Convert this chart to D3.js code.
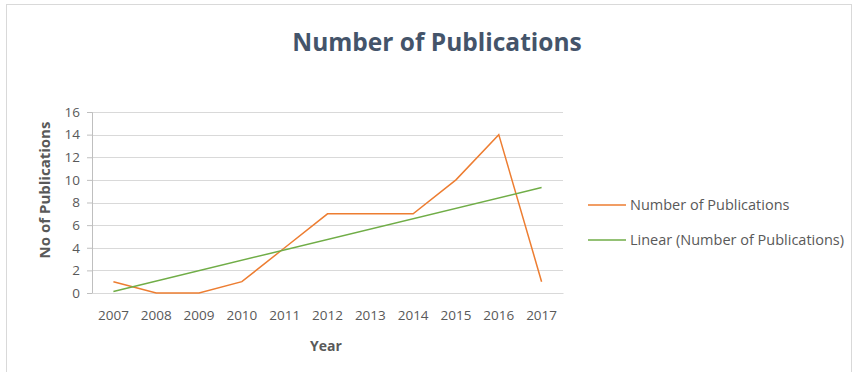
<!DOCTYPE html>
<html>
<head>
<meta charset="utf-8">
<script src="https://cdn.jsdelivr.net/npm/d3@7"></script>
<style>
  body { margin: 0; background: #fff; }
  text { font-family: "Open Sans", sans-serif; }
</style>
</head>
<body>
<div id="chart"></div>
<script>
// chart data
const years = ["2007", "2008", "2009", "2010", "2011", "2012", "2013", "2014", "2015", "2016", "2017"];
const publications = [1, 0, 0, 1, 4, 7, 7, 7, 10, 14, 1];
// linear trend line, value at first and last year
const trendYears = ["2007", "2017"];
const trendValues = [0.14, 9.32];
const yTicks = [0, 2, 4, 6, 8, 10, 12, 14, 16];

const W = 855, H = 372;
const margin = { top: 112, right: 292, bottom: 79, left: 92 };
const width = W - margin.left - margin.right;
const height = H - margin.top - margin.bottom;

const svg = d3.select("#chart").append("svg")
    .attr("width", W)
    .attr("height", H);

// outer chart border
svg.append("rect")
    .attr("x", 6.5).attr("y", 4.5)
    .attr("width", 845).attr("height", 380)
    .attr("fill", "none")
    .attr("stroke", "#d9d9d9");

svg.append("text")
    .attr("x", 437).attr("y", 51)
    .attr("text-anchor", "middle")
    .attr("font-size", 24.5)
    .attr("font-weight", "bold")
    .attr("fill", "#44546a")
    .text("Number of Publications");

const g = svg.append("g")
    .attr("transform", "translate(" + margin.left + "," + margin.top + ")");

const x = d3.scaleBand().domain(years).range([0, width]);
const y = d3.scaleLinear().domain([0, 16]).range([height, 0]);

// gridlines
g.append("g")
    .selectAll("line")
    .data(yTicks.filter(d => d > 0))
    .enter().append("line")
    .attr("x1", 0).attr("x2", width)
    .attr("y1", d => Math.round(y(d)) + 0.5)
    .attr("y2", d => Math.round(y(d)) + 0.5)
    .attr("stroke", "#d9d9d9");

// y axis
const yAxis = g.append("g")
    .call(d3.axisLeft(y).tickValues(yTicks).tickSize(5).tickPadding(7));
yAxis.select(".domain").attr("stroke", "#bfbfbf");
yAxis.selectAll(".tick line").attr("stroke", "#bfbfbf");
yAxis.selectAll("text").attr("font-size", 13.5).attr("fill", "#595959");

// x axis
const xAxis = g.append("g")
    .attr("transform", "translate(0," + height + ")")
    .call(d3.axisBottom(x).tickSize(0).tickPadding(17));
xAxis.select(".domain").attr("stroke", "#d9d9d9");
xAxis.selectAll("text").attr("font-size", 13.5).attr("fill", "#595959");

// axis titles
svg.append("text")
    .attr("x", 326).attr("y", 351)
    .attr("text-anchor", "middle")
    .attr("font-size", 14)
    .attr("font-weight", "bold")
    .attr("fill", "#595959")
    .text("Year");

svg.append("text")
    .attr("transform", "translate(50,190) rotate(-90)")
    .attr("text-anchor", "middle")
    .attr("font-size", 15)
    .attr("font-weight", "bold")
    .attr("fill", "#595959")
    .text("No of Publications");

const cx = d => x(d) + x.bandwidth() / 2;

// data line
const line = d3.line()
    .x((d, i) => cx(years[i]))
    .y(d => y(d));

g.append("path")
    .datum(publications)
    .attr("d", line)
    .attr("fill", "none")
    .attr("stroke", "#ed7d31")
    .attr("stroke-width", 1.5);

// trend line
g.append("path")
    .datum(trendValues)
    .attr("d", d3.line().x((d, i) => cx(trendYears[i])).y(d => y(d)))
    .attr("fill", "none")
    .attr("stroke", "#70ad47")
    .attr("stroke-width", 1.5);

// legend
const legendItems = [
  { label: "Number of Publications", color: "#ed7d31" },
  { label: "Linear (Number of Publications)", color: "#70ad47" }
];
const legend = svg.selectAll(".legend")
    .data(legendItems)
    .enter().append("g")
    .attr("class", "legend")
    .attr("transform", (d, i) => "translate(588," + (205 + i * 35) + ")");
legend.append("line")
    .attr("x1", 0).attr("x2", 38)
    .attr("stroke", d => d.color)
    .attr("stroke-width", 1.5);
legend.append("text")
    .attr("x", 42).attr("dy", "0.35em")
    .attr("font-size", 14.5)
    .attr("fill", "#595959")
    .text(d => d.label);
</script>
</body>
</html>
